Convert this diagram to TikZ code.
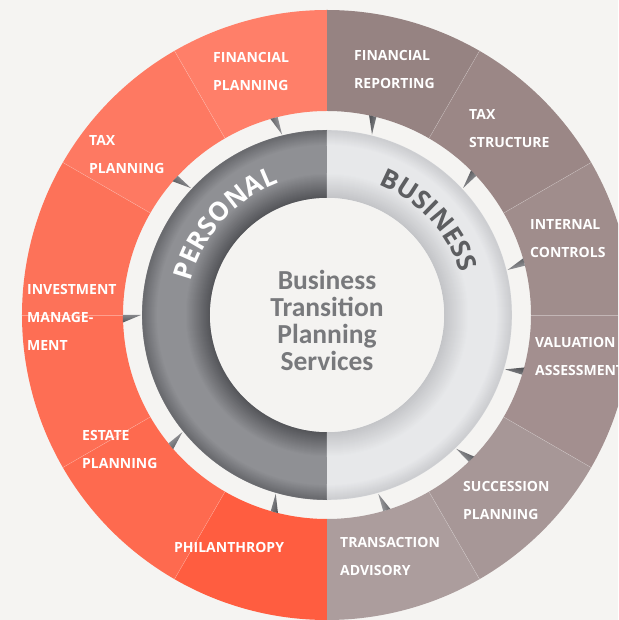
\documentclass[tikz,border=0pt]{standalone}
\usepackage{fontspec}
\setmainfont{Open Sans}
\newfontfamily\calfont{Carlito}
\usetikzlibrary{positioning,decorations.text}

\definecolor{bgc}{HTML}{F5F4F2}
\definecolor{fpc}{HTML}{FF7F69}
\definecolor{tpc}{HTML}{FE7962}
\definecolor{imc}{HTML}{FD7259}
\definecolor{imd}{HTML}{FE6E54}
\definecolor{epc}{HTML}{FE6A4F}
\definecolor{phc}{HTML}{FF5D40}
\definecolor{frc}{HTML}{968382}
\definecolor{tsc}{HTML}{9B8786}
\definecolor{icc}{HTML}{A08D8C}
\definecolor{vac}{HTML}{A38F8F}
\definecolor{spc}{HTML}{A79797}
\definecolor{tac}{HTML}{AC9D9D}
\definecolor{dtin}{HTML}{55565A}
\definecolor{dtmid}{HTML}{8F9094}
\definecolor{dtout}{HTML}{6A6B6F}
\definecolor{ltin}{HTML}{C4C5C8}
\definecolor{ltmid}{HTML}{E7E8EA}
\definecolor{ltout}{HTML}{CDCED1}
\definecolor{hubc}{HTML}{F4F3F1}
\definecolor{hubtext}{HTML}{78797C}
\definecolor{bustext}{HTML}{5D5E61}
\definecolor{tipdark}{HTML}{55565A}
\definecolor{tiplight}{HTML}{B4B5B8}

\tikzset{
  seglabel/.style={text=white, align=left, anchor=west, inner sep=0pt,
    font=\fontsize{14}{28}\selectfont\bfseries},
  hublabel/.style={text=hubtext, align=center, inner sep=0pt,
    font=\calfont\fontsize{27.5}{27}\selectfont\bfseries},
  ringtip/.style={left color=tipdark, right color=tiplight},
  sepline/.style={draw=white, draw opacity=0.35, line width=0.4pt},
  band/.style={line width=1.6pt}
}

\begin{document}
\begin{tikzpicture}[x=1pt,y=1pt]
\useasboundingbox (-327,-305) rectangle (291,315);
\fill[bgc] (-327,-305) rectangle (291,315);
\clip (-327,-305) rectangle (291,315);

% outer ring
\foreach \a/\c in {90/fpc,120/tpc,150/imc,180/imd,210/epc,240/phc,
                   60/frc,30/tsc,0/icc,-30/vac,-60/spc,-90/tac}
  \fill[\c] (\a:204) arc[start angle=\a, end angle=\a+30, radius=204]
    -- (\a+30:305) arc[start angle=\a+30, end angle=\a, radius=305] -- cycle;
\foreach \a in {120,150,180,210,240,60,30,0,-30,-60}
  \draw[sepline] (\a:204) -- (\a:305);

% inner ring
\fill[dtmid] (90:185) arc[start angle=90, end angle=270, radius=185] -- cycle;
\fill[ltmid] (90:185) arc[start angle=90, end angle=-90, radius=185] -- cycle;
\foreach \r [evaluate=\r as \p using {100*(\r-118)/24}] in {118,119,...,142} {
  \draw[band, dtmid!\p!dtin] (90:\r) arc[start angle=90, end angle=270, radius=\r];
  \draw[band, ltmid!\p!ltin] (90:\r) arc[start angle=90, end angle=-90, radius=\r];
}
\foreach \r [evaluate=\r as \p using {100*(184-\r)/14}] in {170,171,...,184} {
  \draw[band, dtmid!\p!dtout] (90:\r) arc[start angle=90, end angle=270, radius=\r];
  \draw[band, ltmid!\p!ltout] (90:\r) arc[start angle=90, end angle=-90, radius=\r];
}
\fill[hubc] (0,0) circle (117);

% tips
\foreach \t in {104,137,180,219,254,286,314,343,14,43,76}
  \shade[ringtip, shading angle=\t] (\t:204) ++(\t+90:7.5) -- (\t:186) -- (\t:204) ++(\t-90:7.5) -- cycle;

\path[decorate, decoration={text along path, text align=center, text color=white,
  text={|\fontsize{26}{26}\selectfont\bfseries|PERSONAL}}]
  (175:140) arc[start angle=175, end angle=101, radius=140];
\path[decorate, decoration={text along path, text align=center, text color=bustext,
  text={|\fontsize{26}{26}\selectfont\bfseries|BUSINESS}}]
  (80:140) arc[start angle=80, end angle=6, radius=140];

\node[hublabel] (hub) at (0,-5.5) {Business\\Transition\\Planning\\Services};

\node[seglabel] (fplab) at (-114,243) {FINANCIAL\\PLANNING};
\node[seglabel] (tplab) at (-238,160.5) {TAX\\PLANNING};
\node[seglabel] (imlab) at (-300,-2) {INVESTMENT\\MANAGE-\\MENT};
\node[seglabel] (eplab) at (-245,-134.5) {ESTATE\\PLANNING};
\node[seglabel] (phlab) at (-153,-232) {PHILANTHROPY};
\node[seglabel] (frlab) at (27,245.5) {FINANCIAL\\REPORTING};
\node[seglabel] (tslab) at (142,186.5) {TAX\\STRUCTURE};
\node[seglabel] (iclab) at (203,76) {INTERNAL\\CONTROLS};
\node[seglabel] (valab) at (208,-41.5) {VALUATION\\ASSESSMENT};
\node[seglabel] (splab) at (136,-185) {SUCCESSION\\PLANNING};
\node[seglabel] (talab) at (13,-241.5) {TRANSACTION\\ADVISORY};
\end{tikzpicture}
\end{document}
